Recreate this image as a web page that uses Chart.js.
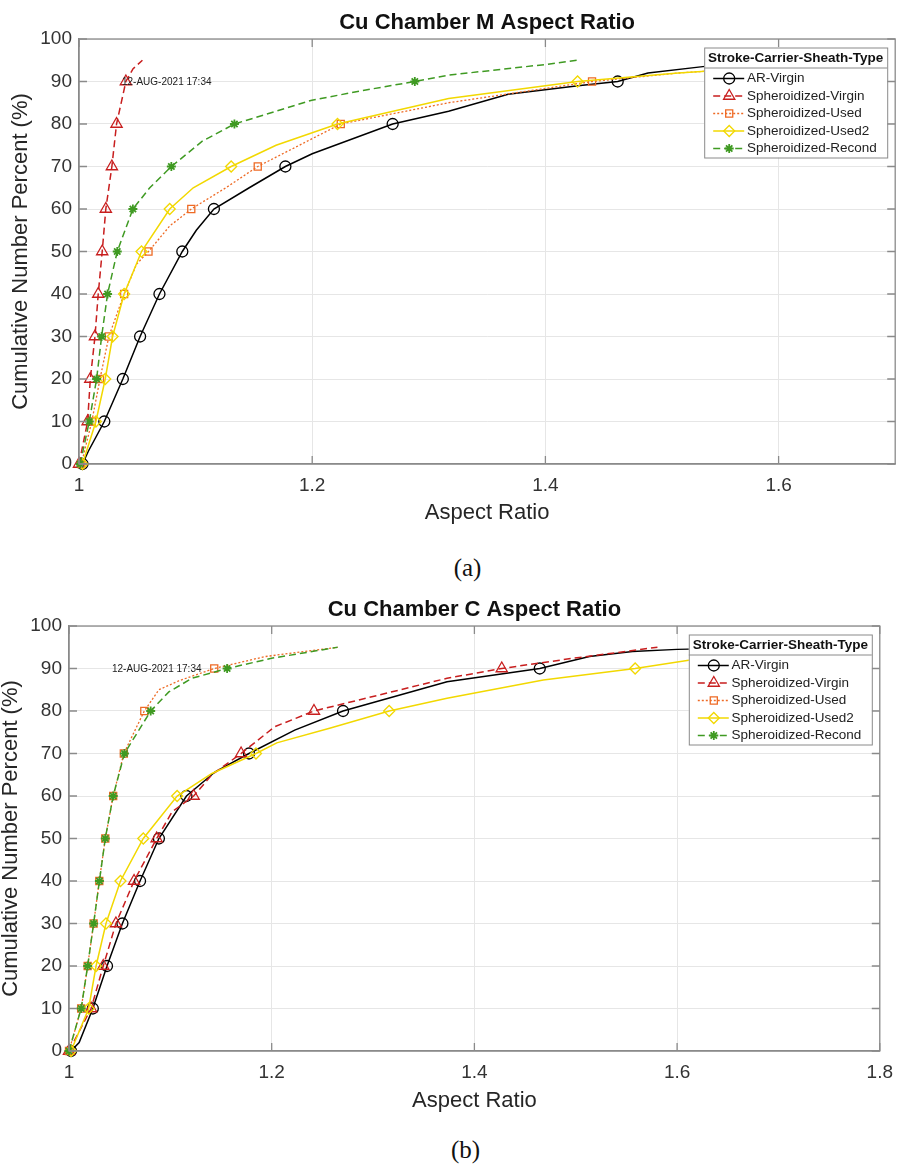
<!DOCTYPE html>
<html>
<head>
<meta charset="utf-8">
<script src="https://cdn.jsdelivr.net/npm/chart.js@4.4.1/dist/chart.umd.min.js"></script>
<style>
  html, body { margin: 0; padding: 0; background: #fff; }
  body { width: 903px; height: 1168px; position: relative; overflow: hidden; }
  .panel { position: absolute; left: 0; width: 903px; height: 545px; }
  .cap { position: absolute; width: 903px; text-align: center; line-height: 30px;
         font-family: "Liberation Serif", "Times New Roman", serif; font-size: 25px; color: #111; }
</style>
</head>
<body>
<div class="panel" style="top:0"><canvas id="chartM" width="903" height="545"></canvas></div>
<div class="cap" style="top:553px; left:16px">(a)</div>
<div class="panel" style="top:587px"><canvas id="chartC" width="903" height="545"></canvas></div>
<div class="cap" style="top:1135px; left:14px">(b)</div>

<script>
// ---- data ----
const seriesNames = ['AR-Virgin', 'Spheroidized-Virgin', 'Spheroidized-Used', 'Spheroidized-Used2', 'Spheroidized-Recond'];
const legendTitle = 'Stroke-Carrier-Sheath-Type';
const yTicks = [0, 10, 20, 30, 40, 50, 60, 70, 80, 90, 100];
const xTicksM = [1, 1.2, 1.4, 1.6];
const xTicksC = [1, 1.2, 1.4, 1.6, 1.8];
const markerLevels = [0, 10, 20, 30, 40, 50, 60, 70, 80, 90];

// (a) Cu Chamber M
const mArVirginX = [1.003, 1.008, 1.0217, 1.0376, 1.0524, 1.069, 1.0886, 1.1006, 1.1157, 1.146, 1.177, 1.2, 1.269, 1.317, 1.368, 1.428, 1.462, 1.488, 1.535, 1.6];
const mArVirginY = [0, 3, 10, 20, 30, 40, 50, 55, 60, 65, 70, 73, 80, 83, 87, 89, 90, 92, 93.5, 95];
const mSphVirginX = [1.0, 1.0074, 1.0097, 1.0137, 1.0165, 1.0199, 1.023, 1.0282, 1.0322, 1.0402, 1.0464, 1.0544];
const mSphVirginY = [0, 10, 20, 30, 40, 50, 60, 70, 80, 90, 93, 95];
const mSphUsedX = [1.002, 1.011, 1.018, 1.0256, 1.0387, 1.0493, 1.0596, 1.0778, 1.0963, 1.126, 1.1533, 1.189, 1.2245, 1.317, 1.44, 1.514, 1.57];
const mSphUsedY = [0, 10, 20, 30, 40, 47, 50, 56, 60, 65, 70, 75, 80, 85, 90, 92, 93];
const mSphUsed2X = [1.003, 1.0145, 1.0225, 1.0288, 1.0387, 1.0536, 1.0778, 1.098, 1.1305, 1.169, 1.2217, 1.317, 1.4276, 1.514, 1.57];
const mSphUsed2Y = [0, 10, 20, 30, 40, 50, 60, 65, 70, 75, 80, 86, 90, 92, 93];
const mSphRecondX = [1.001, 1.0088, 1.0151, 1.0194, 1.0245, 1.0328, 1.0462, 1.0607, 1.0792, 1.106, 1.1333, 1.1997, 1.246, 1.288, 1.317, 1.40, 1.4268];
const mSphRecondY = [0, 10, 20, 30, 40, 50, 60, 65, 70, 76, 80, 85.6, 88, 90, 91.5, 94, 95];

// (b) Cu Chamber C
const cArVirginX = [1.002, 1.01, 1.0235, 1.0375, 1.0527, 1.0701, 1.0887, 1.1159, 1.1443, 1.1776, 1.2227, 1.2704, 1.373, 1.4645, 1.5135, 1.556, 1.6, 1.7];
const cArVirginY = [0, 2, 10, 20, 30, 40, 50, 60, 65.7, 70, 75.5, 80, 86.9, 90, 92.8, 94, 94.5, 95];
const cSphVirginX = [1.0, 1.0218, 1.0338, 1.0463, 1.0642, 1.0865, 1.1018, 1.123, 1.141, 1.1698, 1.203, 1.2417, 1.373, 1.427, 1.497, 1.536, 1.5806];
const cSphVirginY = [0, 10, 20, 30, 40, 50, 56.3, 60, 65, 70, 76.3, 80, 87.7, 90, 92.4, 93.6, 95];
const cSphUsedX = [1.0, 1.012, 1.0184, 1.0243, 1.0299, 1.0358, 1.0436, 1.0541, 1.0743, 1.0887, 1.1083, 1.1433, 1.1933, 1.265];
const cSphUsedY = [0, 10, 20, 30, 40, 50, 60, 70, 80, 85, 87.1, 90, 92.8, 95];
const cSphUsed2X = [1.002, 1.0194, 1.0267, 1.0365, 1.0508, 1.0733, 1.1067, 1.141, 1.1845, 1.205, 1.258, 1.3159, 1.373, 1.468, 1.5586, 1.613, 1.72];
const cSphUsed2Y = [0, 10, 20, 30, 40, 50, 60, 65.3, 70, 72.5, 76, 80, 83, 87.3, 90, 92, 93.5];
const cSphRecondX = [1.0, 1.012, 1.0184, 1.0243, 1.03, 1.0358, 1.0436, 1.0547, 1.0806, 1.0985, 1.1214, 1.156, 1.1998, 1.265];
const cSphRecondY = [0, 10, 20, 30, 40, 50, 60, 70, 80, 84.5, 87.7, 90, 92.4, 95];

// ---- styles ----
const FONT = '"Liberation Sans", Arial, Helvetica, sans-serif';
Chart.defaults.font.family = FONT;

const seriesStyles = [
  { color: '#000000', dash: [],     width: 1.5, point: 'circle',   radius: 5.5, pw: 1.3 },
  { color: '#c81e1e', dash: [7, 4], width: 1.5, point: 'triangle', radius: 6.5, pw: 1.3 },
  { color: '#ee6a24', dash: [2, 2], width: 1.3, point: 'rect',     radius: 5,   pw: 1.3 },
  { color: '#f2d800', dash: [],     width: 1.5, point: 'rectRot',  radius: 5.5, pw: 1.3 },
  { color: '#3f9a22', dash: [7, 4], width: 1.5, point: 'star',     radius: 4.5, pw: 1.8 }
];
const GRID = '#e6e6e6';
const AXIS = '#8a8a8a';

function toPoints(xs, ys) {
  return xs.map((x, i) => ({ x: x, y: ys[i] }));
}

function makeDatasets(pairs) {
  return pairs.map((p, i) => {
    const st = seriesStyles[i];
    return {
      label: seriesNames[i],
      data: toPoints(p[0], p[1]),
      showLine: true,
      borderColor: st.color,
      borderWidth: st.width,
      borderDash: st.dash,
      tension: 0,
      fill: false,
      clip: false,
      order: 5 - i,
      pointStyle: st.point,
      pointBorderColor: st.color,
      pointBackgroundColor: 'rgba(0,0,0,0)',
      pointBorderWidth: st.pw,
      pointRadius: ctx => (ctx.raw && markerLevels.includes(ctx.raw.y)) ? st.radius : 0
    };
  });
}

function drawMarker(ctx, st, x, y) {
  ctx.save();
  ctx.setLineDash([]);
  ctx.strokeStyle = st.color;
  ctx.fillStyle = 'rgba(0,0,0,0)';
  ctx.lineWidth = st.pw;
  Chart.helpers.drawPoint(ctx, { pointStyle: st.point, radius: st.radius, borderWidth: st.pw, rotation: 0 }, x, y);
  ctx.restore();
}

// box, inward ticks, date stamp and boxed legend like the MATLAB figure
const matlabDecor = {
  id: 'matlabDecor',
  afterDatasetsDraw(chart) {
    const ctx = chart.ctx, a = chart.chartArea;
    const xs = chart.scales.x, ys = chart.scales.y;
    ctx.save();
    ctx.strokeStyle = AXIS;
    ctx.lineWidth = 1.3;
    ctx.strokeRect(a.left, a.top, a.right - a.left, a.bottom - a.top);
    ctx.beginPath();
    xs.ticks.forEach(t => {
      const px = xs.getPixelForValue(t.value);
      ctx.moveTo(px, a.bottom); ctx.lineTo(px, a.bottom - 8);
      ctx.moveTo(px, a.top); ctx.lineTo(px, a.top + 8);
    });
    ys.ticks.forEach(t => {
      const py = ys.getPixelForValue(t.value);
      ctx.moveTo(a.left, py); ctx.lineTo(a.left + 8, py);
      ctx.moveTo(a.right, py); ctx.lineTo(a.right - 8, py);
    });
    ctx.stroke();

    // date stamp
    ctx.font = '10px ' + FONT;
    ctx.fillStyle = '#222';
    ctx.textAlign = 'left';
    ctx.textBaseline = 'middle';
    ctx.fillText('12-AUG-2021 17:34', a.left + 43, a.top + 43);

    // legend
    const lw = 183, lh = 110;
    const L = a.right - 8 - lw, T = a.top + 8.5;
    ctx.fillStyle = '#fff';
    ctx.fillRect(L, T, lw, lh);
    ctx.strokeStyle = AXIS;
    ctx.lineWidth = 1;
    ctx.strokeRect(L + 0.5, T + 0.5, lw, lh);
    ctx.beginPath();
    ctx.moveTo(L, T + 20.5); ctx.lineTo(L + lw, T + 20.5);
    ctx.stroke();
    ctx.font = 'bold 13.5px ' + FONT;
    ctx.fillStyle = '#111';
    ctx.textAlign = 'center';
    ctx.fillText(legendTitle, L + lw / 2, T + 11);

    ctx.font = '13.5px ' + FONT;
    ctx.textAlign = 'left';
    seriesNames.forEach((name, i) => {
      const st = seriesStyles[i];
      const cy = T + 31 + 17.5 * i;
      ctx.strokeStyle = st.color;
      ctx.lineWidth = st.width;
      ctx.setLineDash(st.dash);
      ctx.beginPath();
      ctx.moveTo(L + 9, cy); ctx.lineTo(L + 40, cy);
      ctx.stroke();
      ctx.setLineDash([]);
      drawMarker(ctx, st, L + 25, cy);
      ctx.fillStyle = '#222';
      ctx.fillText(name, L + 42.7, cy);
    });
    ctx.restore();
  }
};

function makeChart(id, title, pairs, xMax, xTicks, opts) {
  return new Chart(document.getElementById(id), {
    type: 'scatter',
    data: { datasets: makeDatasets(pairs) },
    options: {
      responsive: false,
      animation: false,
      events: [],
      layout: { padding: { left: 0, right: opts.right, top: 0, bottom: 0 } },
      plugins: {
        legend: { display: false },
        tooltip: { enabled: false },
        title: {
          display: true, text: title, fullSize: false, color: '#111',
          font: { size: 22, weight: 'bold', lineHeight: 1.2 },
          padding: { top: 10, bottom: 2.6 }
        }
      },
      scales: {
        x: {
          type: 'linear', min: 1, max: xMax,
          afterBuildTicks: s => { s.ticks = xTicks.map(v => ({ value: v })); },
          afterFit: s => { s.height = 81; },
          grid: { color: GRID, drawTicks: false },
          border: { color: AXIS, width: 1.3 },
          ticks: {
            font: { size: 19 }, color: '#333', padding: 10, maxRotation: 0, autoSkip: false,
            callback: v => String(+Number(v).toFixed(1))
          },
          title: {
            display: true, text: 'Aspect Ratio', color: '#262626',
            font: { size: 22, lineHeight: 1 }, padding: { top: 0, bottom: opts.xTitlePad }
          }
        },
        y: {
          type: 'linear', min: 0, max: 100,
          afterBuildTicks: s => { s.ticks = yTicks.map(v => ({ value: v })); },
          afterFit: s => { s.width = opts.yWidth; },
          grid: { color: GRID, drawTicks: false },
          border: { color: AXIS, width: 1.3 },
          ticks: { font: { size: 19 }, color: '#333', padding: 7, autoSkip: false },
          title: {
            display: true, text: 'Cumulative Number Percent (%)', color: '#262626',
            font: { size: 22, lineHeight: 1 }, padding: { top: opts.yTitlePad, bottom: 0 }
          }
        }
      }
    },
    plugins: [matlabDecor]
  });
}

makeChart('chartM', 'Cu Chamber M Aspect Ratio', [
  [mArVirginX, mArVirginY],
  [mSphVirginX, mSphVirginY],
  [mSphUsedX, mSphUsedY],
  [mSphUsed2X, mSphUsed2Y],
  [mSphRecondX, mSphRecondY]
], 1.7, xTicksM, { right: 7, yWidth: 79, yTitlePad: 9.8, xTitlePad: 21 });

makeChart('chartC', 'Cu Chamber C Aspect Ratio', [
  [cArVirginX, cArVirginY],
  [cSphVirginX, cSphVirginY],
  [cSphUsedX, cSphUsedY],
  [cSphUsed2X, cSphUsed2Y],
  [cSphRecondX, cSphRecondY]
], 1.8, xTicksC, { right: 16, yWidth: 69, yTitlePad: 0, xTitlePad: 20 });
</script>
</body>
</html>
